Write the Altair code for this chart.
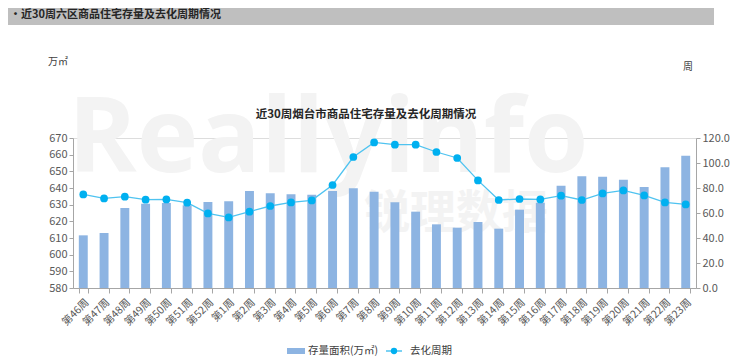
import altair as alt
import pandas as pd

weeks = ["第46周", "第47周", "第48周", "第49周", "第50周", "第51周", "第52周",
         "第1周", "第2周", "第3周", "第4周", "第5周", "第6周", "第7周", "第8周",
         "第9周", "第10周", "第11周", "第12周", "第13周", "第14周", "第15周",
         "第16周", "第17周", "第18周", "第19周", "第20周", "第21周", "第22周", "第23周"]
stock = [611.6, 613.0, 628.0, 630.6, 631.0, 629.6, 631.6, 632.0, 638.2, 636.8,
         636.2, 636.0, 638.2, 639.8, 637.8, 631.4, 625.8, 618.2, 616.2, 619.6,
         615.6, 627.0, 631.2, 641.4, 647.0, 646.8, 645.0, 640.6, 652.4, 659.4]
cycle = [74.9, 71.7, 73.1, 70.7, 70.9, 68.3, 59.7, 56.5, 61.1, 65.6,
         68.5, 70.1, 82.4, 104.8, 116.5, 114.7, 114.7, 108.8, 104.0, 86.1,
         70.4, 71.2, 70.9, 73.9, 70.4, 75.7, 78.1, 74.1, 68.5, 66.9]
left_ticks = list(range(580, 671, 10))
right_ticks = list(range(0, 121, 20))

FONT = "Noto Sans CJK SC"
BAR = "#8DB4E2"
LINE = "#4FC3F0"
DOT = "#00B0F0"
WM = "#F3F3F3"

df = pd.DataFrame({"week": weeks, "stock": stock, "cycle": cycle})
one = pd.DataFrame({"a": [0]})

xenc = alt.X("week:N", sort=weeks, title=None,
             scale=alt.Scale(paddingInner=0.57, paddingOuter=0.28),
             axis=alt.Axis(labelAngle=-45, labelFontSize=10.5, labelColor="#595959",
                           domainColor="#A6A6A6", tickColor="#A6A6A6", tickSize=5,
                           tickBand="extent", labelPadding=4, labelFont=FONT))

def txt(s, x, y, size=11, weight="normal", color="#404040", align="center", opacity=1.0):
    return alt.Chart(one).mark_text(text=s, fontSize=size, fontWeight=weight, color=color,
                                    align=align, baseline="middle", font=FONT,
                                    opacity=opacity).encode(x=alt.value(x), y=alt.value(y))

wm1 = alt.Chart(one).mark_text(text="Reallyinfo", fontSize=104, fontWeight="bold",
                               color=WM, align="left", baseline="alphabetic",
                               font="Open Sans").encode(x=alt.value(-5), y=alt.value(34))
wm2 = txt("锐理数据", 383, 76, size=46, weight="bold", color=WM)

bars = alt.Chart(df).mark_bar(color=BAR).encode(
    x=xenc,
    y=alt.Y("stock:Q", title=None,
            scale=alt.Scale(domain=[580, 670], nice=False, zero=False),
            axis=alt.Axis(orient="left", values=left_ticks, grid=False, labelColor="#595959",
                          labelFontSize=11, domainColor="#A6A6A6", tickColor="#A6A6A6",
                          tickSize=4, labelFont=FONT)),
    y2=alt.datum(580),
)

line = alt.Chart(df).mark_line(
    color=LINE, strokeWidth=1.3,
    point=alt.OverlayMarkDef(filled=True, fill=DOT, size=60, opacity=1)
).encode(
    x=xenc,
    y=alt.Y("cycle:Q", title=None,
            scale=alt.Scale(domain=[0, 120], nice=False),
            axis=alt.Axis(orient="right", values=right_ticks, format=".1f", grid=False,
                          labelColor="#595959", labelFontSize=11, domainColor="#A6A6A6",
                          tickColor="#A6A6A6", tickSize=4, labelFont=FONT)),
)

header = alt.Chart(one).mark_rect(color="#BFBFBF").encode(
    x=alt.value(-66), x2=alt.value(641), y=alt.value(-133), y2=alt.value(-113))
header_t = txt("•近30周六区商品住宅存量及去化周期情况", -63, -123, size=11, weight="bold",
               color="#262626", align="left")
title_t = txt("近30周烟台市商品住宅存量及去化周期情况", 293, -23, size=11.5, weight="bold",
              color="#262626")
unit_l = txt("万㎡", -15, -76, size=10, color="#404040")
unit_r = txt("周", 615, -71, size=10, color="#404040")

leg_sw = alt.Chart(one).mark_rect(color=BAR).encode(
    x=alt.value(214), x2=alt.value(232), y=alt.value(210), y2=alt.value(216))
leg_t1 = txt("存量面积(万㎡)", 235, 213, size=10.5, color="#404040", align="left")
leg_ln = alt.Chart(one).mark_rule(color=LINE, strokeWidth=1.5).encode(
    x=alt.value(313), x2=alt.value(329), y=alt.value(213))
leg_pt = alt.Chart(one).mark_point(filled=True, color=DOT, size=40, opacity=1).encode(
    x=alt.value(321), y=alt.value(213))
leg_t2 = txt("去化周期", 337, 213, size=10.5, color="#404040", align="left")

chart = alt.layer(
    wm1, wm2, bars, line, header, header_t, title_t, unit_l, unit_r,
    leg_sw, leg_t1, leg_ln, leg_pt, leg_t2
).resolve_scale(y="independent").properties(
    width=623, height=150,
    autosize=alt.AutoSizeParams(type="none"),
    padding={"left": 65, "top": 130, "right": 36, "bottom": 70},
).configure_view(stroke=None).configure(font=FONT)

chart.save("out.html", embed_options={"renderer": "svg", "actions": False})
